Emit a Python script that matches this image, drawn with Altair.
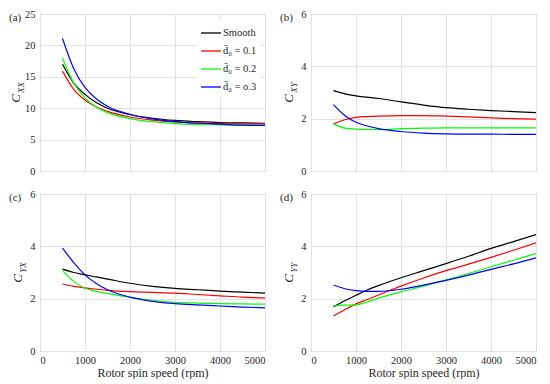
import altair as alt
import pandas as pd

FONT = "Liberation Serif, Times New Roman, serif"
TXT = "#262626"
W, H = 225, 157

rpm = [500, 750, 1000, 1250, 1500, 2000, 2500, 3000, 3500, 4000, 4500, 5000]
series = ["Smooth", "d\u0304\u2080 = 0.1", "d\u0304\u2080 = 0.2", "d\u0304\u2080 = o.3"]
colors = ["#000000", "#ff0000", "#00ff00", "#0000ff"]
xticks = [0, 1000, 2000, 3000, 4000, 5000]

# (a) C_XX
cxx_smooth = [17.0, 14.0, 12.2, 10.9, 10.0, 9.0, 8.4, 8.05, 7.85, 7.7, 7.65, 7.6]
cxx_d01 = [15.9, 13.0, 11.3, 10.2, 9.5, 8.6, 8.1, 7.8, 7.65, 7.55, 7.5, 7.5]
cxx_d02 = [18.0, 14.0, 11.6, 10.2, 9.3, 8.35, 7.85, 7.55, 7.4, 7.35, 7.3, 7.3]
cxx_d03 = [21.1, 16.3, 13.3, 11.5, 10.3, 9.0, 8.3, 7.85, 7.6, 7.45, 7.3, 7.25]

# (b) C_XY
cxy_smooth = [3.07, 2.95, 2.87, 2.82, 2.77, 2.64, 2.52, 2.42, 2.36, 2.31, 2.27, 2.23]
cxy_d01 = [1.80, 1.96, 2.05, 2.08, 2.10, 2.12, 2.12, 2.10, 2.07, 2.03, 2.00, 1.98]
cxy_d02 = [1.80, 1.64, 1.60, 1.59, 1.58, 1.62, 1.64, 1.65, 1.65, 1.65, 1.65, 1.65]
cxy_d03 = [2.54, 2.12, 1.86, 1.72, 1.62, 1.51, 1.45, 1.42, 1.41, 1.41, 1.40, 1.40]

# (c) C_YX
cyx_smooth = [3.13, 3.00, 2.91, 2.83, 2.75, 2.59, 2.47, 2.39, 2.34, 2.29, 2.25, 2.21]
cyx_d01 = [2.56, 2.47, 2.41, 2.36, 2.32, 2.27, 2.24, 2.21, 2.16, 2.11, 2.06, 2.03]
cyx_d02 = [3.07, 2.66, 2.40, 2.28, 2.20, 2.05, 1.94, 1.86, 1.83, 1.81, 1.80, 1.79]
cyx_d03 = [3.93, 3.38, 2.91, 2.58, 2.34, 2.06, 1.90, 1.81, 1.76, 1.72, 1.68, 1.65]

# (d) C_YY
cyy_smooth = [1.69, 1.92, 2.13, 2.33, 2.50, 2.80, 3.07, 3.34, 3.62, 3.92, 4.18, 4.45]
cyy_d01 = [1.34, 1.58, 1.80, 1.97, 2.14, 2.48, 2.79, 3.07, 3.32, 3.58, 3.85, 4.13]
cyy_d02 = [1.72, 1.75, 1.76, 1.88, 2.02, 2.26, 2.48, 2.72, 2.96, 3.22, 3.47, 3.72]
cyy_d03 = [2.52, 2.38, 2.31, 2.28, 2.28, 2.36, 2.52, 2.70, 2.90, 3.12, 3.33, 3.56]


def long_df(vals):
    rows = []
    for name, v in zip(series, vals):
        for r, y in zip(rpm, v):
            rows.append({"rpm": r, "value": y, "series": name})
    return pd.DataFrame(rows)


def txt(t, x, y, size, style="normal", align="center", angle=0):
    return alt.Chart(pd.DataFrame({"t": [t]})).mark_text(
        font=FONT, fontSize=size, fontStyle=style, align=align,
        baseline="middle", angle=angle, color=TXT
    ).encode(x=alt.value(x), y=alt.value(y), text="t:N")


def panel(vals, ymax, ystep, sub, label, bottom, show_legend, cx):
    df = long_df(vals)
    xkw = dict(values=xticks, grid=True, ticks=False, domain=False, labels=bottom,
               labelFont=FONT, labelFontSize=10.5, labelColor=TXT, labelPadding=4,
               gridColor="#e2e2e2", format="d")
    if bottom:
        xkw.update(title="Rotor spin speed (rpm)", titleFont=FONT, titleFontSize=12,
                   titleFontWeight="normal", titleColor=TXT, titlePadding=2)
    else:
        xkw.update(title=None)
    yaxis = alt.Axis(values=list(range(0, ymax + 1, ystep)), grid=True, ticks=False,
                     domain=False, title=None, labelFont=FONT, labelFontSize=10.5,
                     labelColor=TXT, labelPadding=5, gridColor="#e2e2e2")
    if show_legend:
        leg = alt.Legend(orient="top-right", title=None, fillColor="white",
                         symbolType="stroke", symbolSize=400, symbolStrokeWidth=1.3,
                         labelFont=FONT, labelFontSize=10.5, labelColor=TXT,
                         rowPadding=1, padding=3, offset=5, labelOffset=1)
    else:
        leg = None
    lines = alt.Chart(df).mark_line(strokeWidth=1.2, interpolate="monotone", clip=True).encode(
        x=alt.X("rpm:Q", scale=alt.Scale(domain=[0, 5000], nice=False), axis=alt.Axis(**xkw)),
        y=alt.Y("value:Q", scale=alt.Scale(domain=[0, ymax], nice=False), axis=yaxis),
        color=alt.Color("series:N", scale=alt.Scale(domain=series, range=colors),
                        sort=series, legend=leg),
        detail="series:N",
    )
    c = txt("C", cx, H / 2 + 6, 13, style="italic", angle=270)
    s = txt(sub, cx + 5, H / 2 - 5, 9, style="italic", angle=270)
    lab = txt(label, -31, 4, 11, align="left")
    return alt.layer(lines, c, s, lab).properties(width=W, height=H)


pa = panel([cxx_smooth, cxx_d01, cxx_d02, cxx_d03], 25, 5, "XX", "(a)", False, True, -24)
pb = panel([cxy_smooth, cxy_d01, cxy_d02, cxy_d03], 6, 2, "XY", "(b)", False, False, -22)
pc = panel([cyx_smooth, cyx_d01, cyx_d02, cyx_d03], 6, 2, "YX", "(c)", True, False, -22)
pd_ = panel([cyy_smooth, cyy_d01, cyy_d02, cyy_d03], 6, 2, "YY", "(d)", True, False, -22)

chart = alt.concat(pa, pb, pc, pd_, columns=2, spacing={"row": 23, "column": 46},
                   bounds="flush").resolve_legend(color="independent").configure_view(
    stroke="#6e6e6e", strokeWidth=1
).properties(background="white", padding=0)

chart.save("out.html", embed_options={"renderer": "svg", "actions": False})
